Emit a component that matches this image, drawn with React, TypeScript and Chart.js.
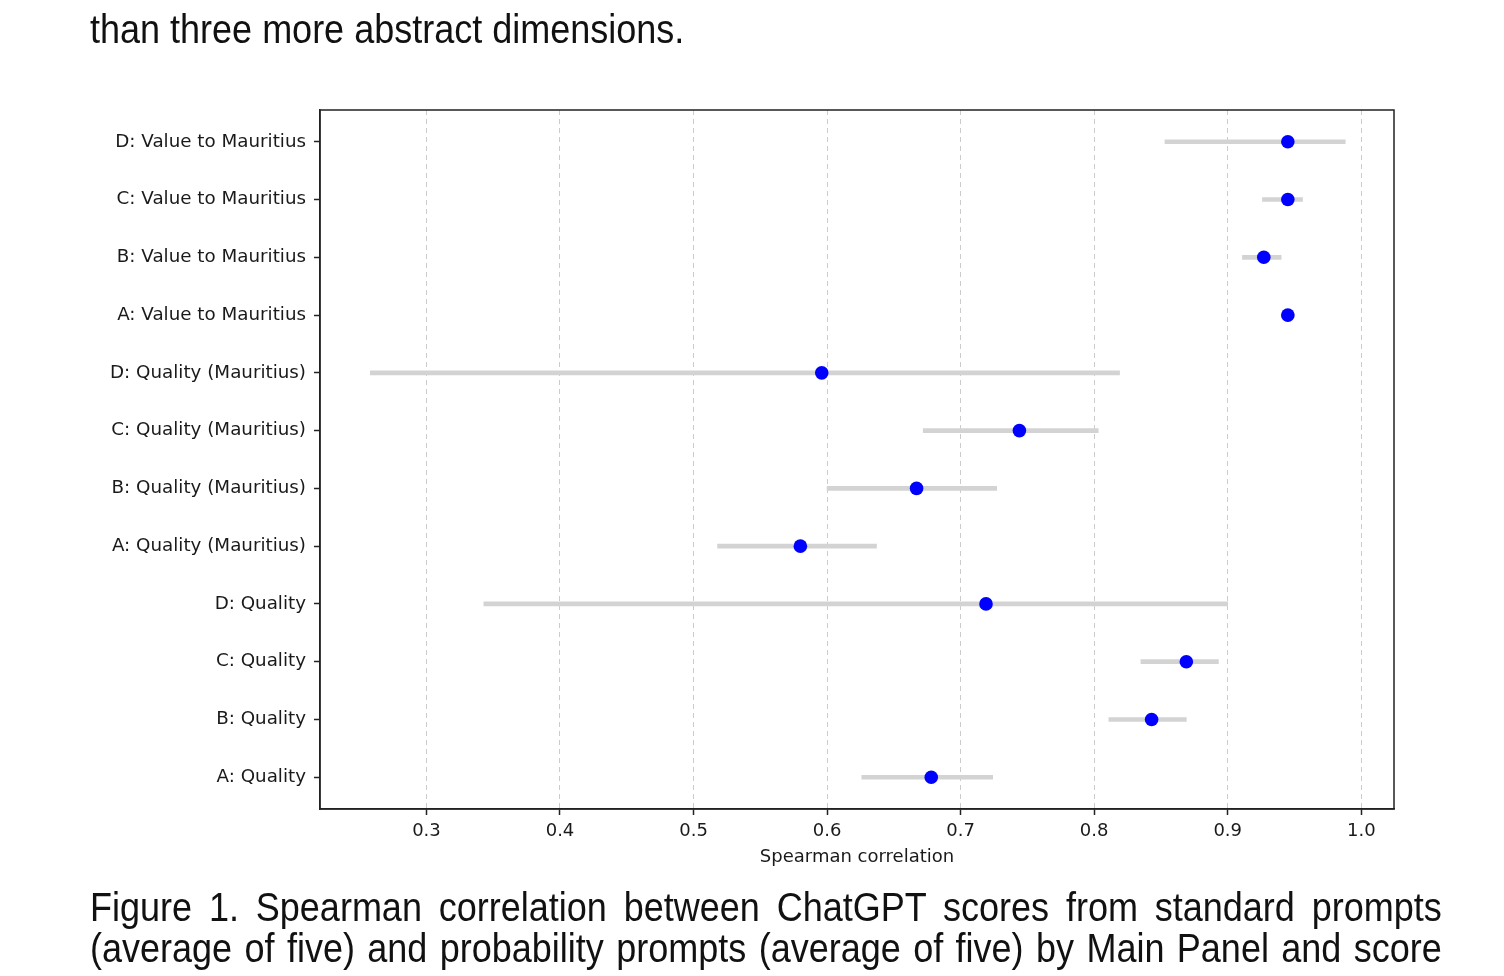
import React, { useEffect, useRef } from "react";
import { Chart, registerables } from "chart.js";

Chart.register(...registerables);

// Rows, listed top to bottom
const rowLabels = [
  "D: Value to Mauritius",
  "C: Value to Mauritius",
  "B: Value to Mauritius",
  "A: Value to Mauritius",
  "D: Quality (Mauritius)",
  "C: Quality (Mauritius)",
  "B: Quality (Mauritius)",
  "A: Quality (Mauritius)",
  "D: Quality",
  "C: Quality",
  "B: Quality",
  "A: Quality",
];

// Spearman correlation (mean) and its confidence interval per row
const correlation = [0.945, 0.945, 0.927, 0.945, 0.596, 0.744, 0.667, 0.58, 0.719, 0.869, 0.843, 0.678];
const ciLower = [0.853, 0.926, 0.911, 0.94, 0.258, 0.672, 0.6, 0.518, 0.343, 0.835, 0.811, 0.626];
const ciUpper = [0.988, 0.956, 0.94, 0.95, 0.819, 0.803, 0.727, 0.637, 0.9, 0.893, 0.869, 0.724];

const xTickValues = [0.3, 0.4, 0.5, 0.6, 0.7, 0.8, 0.9, 1.0];

const AXIS_FONT = "'DejaVu Sans', sans-serif";
const TEXT_FONT = "'Liberation Sans', Arial, sans-serif";

// Closes the box around the plot (top and right spines)
const frameBox = {
  id: "frameBox",
  afterDraw(chart: any) {
    const { ctx, chartArea } = chart;
    ctx.save();
    ctx.setLineDash([]);
    ctx.strokeStyle = "#222";
    ctx.lineWidth = 1.5;
    ctx.strokeRect(chartArea.left, chartArea.top, chartArea.right - chartArea.left, chartArea.bottom - chartArea.top);
    ctx.restore();
  },
};

function CorrelationChart() {
  const canvasRef = useRef<HTMLCanvasElement | null>(null);

  useEffect(() => {
    const canvas = canvasRef.current;
    if (!canvas) return;

    const chart = new Chart(canvas, {
      type: "scatter",
      data: {
        datasets: [
          {
            type: "scatter",
            label: "Spearman correlation",
            data: correlation.map((v, i) => ({ x: v, y: i })),
            backgroundColor: "#0000ff",
            borderWidth: 0,
            pointRadius: 6.8,
            pointHoverRadius: 6.8,
          },
          {
            type: "bar",
            label: "Confidence interval",
            indexAxis: "y",
            data: rowLabels.map((_, i) => ({ x: [ciLower[i], ciUpper[i]], y: i })),
            backgroundColor: "#d3d3d3",
            borderWidth: 0,
            barThickness: 4,
            grouped: false,
          } as any,
        ],
      },
      options: {
        animation: false,
        responsive: false,
        maintainAspectRatio: false,
        layout: { padding: { left: 0, top: 110, right: 110, bottom: 97 } },
        plugins: {
          legend: { display: false },
          tooltip: { enabled: false },
        },
        scales: {
          x: {
            type: "linear",
            min: 0.2203,
            max: 1.0245,
            offset: false,
            afterBuildTicks: (scale: any) => {
              scale.ticks = xTickValues.map((v) => ({ value: v }));
            },
            afterFit: (scale: any) => {
              scale.height = 70;
            },
            ticks: {
              callback: (v: any) => Number(v).toFixed(1),
              color: "#1a1a1a",
              font: { family: AXIS_FONT, size: 18 },
              padding: 6,
              maxRotation: 0,
              autoSkip: false,
            },
            grid: {
              display: true,
              drawOnChartArea: true,
              color: "#cccccc",
              lineWidth: 1,
              drawTicks: true,
              tickLength: 6,
              tickColor: "#222",
              tickWidth: 1.5,
              tickBorderDash: [],
            },
            border: { display: true, color: "#222", width: 1.5, dash: [5, 4] },
            title: {
              display: true,
              text: "Spearman correlation",
              color: "#1a1a1a",
              font: { family: AXIS_FONT, size: 18 },
              padding: { top: 4, bottom: 11 },
            },
          },
          y: {
            type: "linear",
            reverse: true,
            min: -0.55,
            max: 11.55,
            offset: false,
            afterBuildTicks: (scale: any) => {
              scale.ticks = rowLabels.map((_, i) => ({ value: i }));
            },
            afterFit: (scale: any) => {
              scale.width = 320;
            },
            ticks: {
              callback: (v: any) => rowLabels[Math.round(Number(v))] ?? "",
              color: "#1a1a1a",
              font: { family: AXIS_FONT, size: 18.3 },
              padding: 8,
              autoSkip: false,
            },
            grid: {
              display: true,
              drawOnChartArea: false,
              offset: false,
              drawTicks: true,
              tickLength: 6,
              tickColor: "#222",
              tickWidth: 1.5,
            },
            border: { display: true, color: "#222", width: 1.5 },
          },
        },
      } as any,
      plugins: [frameBox],
    });

    return () => {
      chart.destroy();
    };
  }, []);

  return (
    <canvas
      ref={canvasRef}
      width={1504}
      height={976}
      style={{ position: "absolute", left: 0, top: 0, width: 1504, height: 976 }}
    />
  );
}

const lineStyle: React.CSSProperties = {
  position: "absolute",
  left: 90,
  width: 1502,
  fontFamily: TEXT_FONT,
  fontSize: 40,
  lineHeight: "41px",
  color: "#111",
  whiteSpace: "nowrap",
  transform: "scaleX(0.9)",
  transformOrigin: "left top",
};

const justified: React.CSSProperties = {
  ...lineStyle,
  whiteSpace: "normal",
  textAlign: "justify",
  textAlignLast: "justify" as any,
};

export default function App() {
  return (
    <div
      style={{
        position: "absolute",
        left: 0,
        top: 0,
        width: 1504,
        height: 976,
        overflow: "hidden",
        background: "#fff",
      }}
    >
      <CorrelationChart />
      <div style={{ ...lineStyle, top: 9 }}>than three more abstract dimensions.</div>
      <div style={{ ...justified, top: 887 }}>
        Figure 1. Spearman correlation between ChatGPT scores from standard prompts
      </div>
      <div style={{ ...justified, top: 928 }}>
        (average of five) and probability prompts (average of five) by Main Panel and score
      </div>
    </div>
  );
}
